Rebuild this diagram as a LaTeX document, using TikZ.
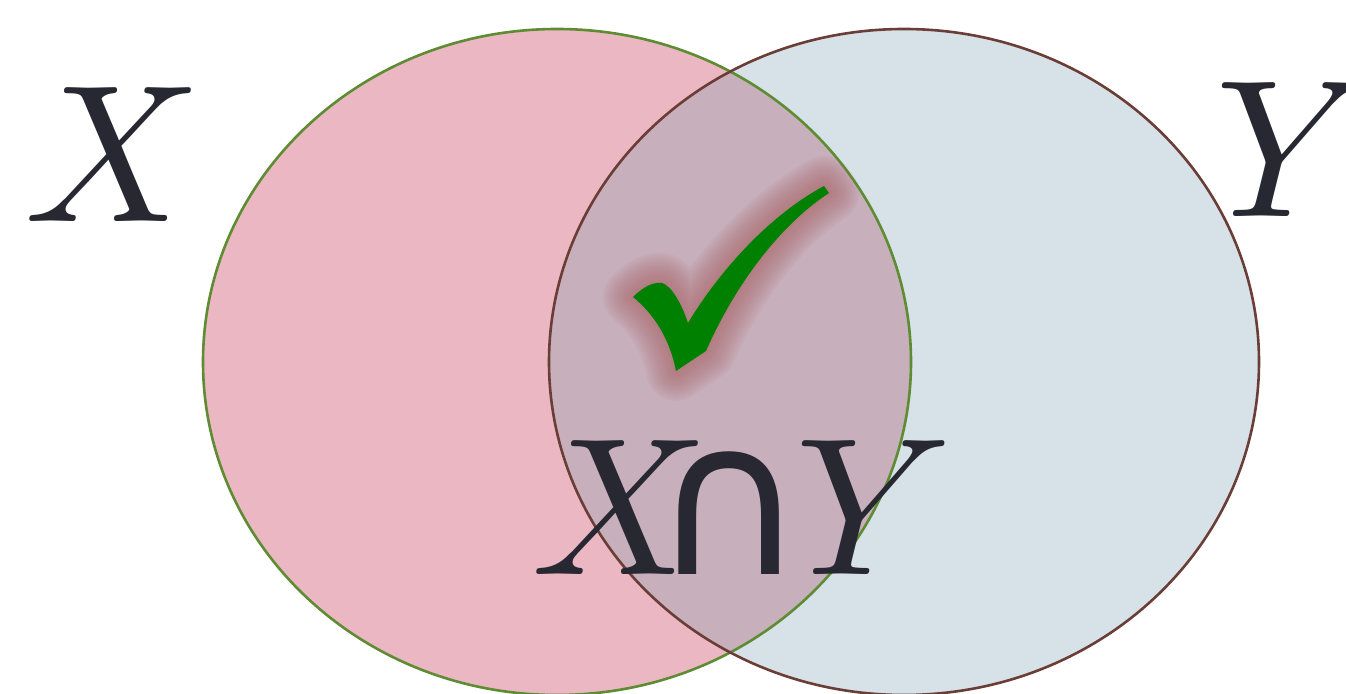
\documentclass[tikz,border=0pt]{standalone}
\usepackage[no-math]{fontspec}
\newfontfamily\dejavu{DejaVu Sans}
\usepackage{tikz}
\definecolor{pinkfill}{RGB}{235,183,195}
\definecolor{bluefill}{RGB}{214,225,232}
\definecolor{overfill}{RGB}{199,175,188}
\definecolor{greenline}{RGB}{94,140,50}
\definecolor{brownline}{RGB}{106,62,54}
\definecolor{inkcol}{RGB}{40,40,50}
\definecolor{glowcol}{RGB}{170,100,100}
\definecolor{checkgreen}{RGB}{0,128,0}
\begin{document}
\begin{tikzpicture}[x=0.5pt,y=-0.5pt,
  lbl/.style={inner sep=0pt,text=inkcol,scale=9.8},
  glow/.style={draw=glowcol,draw opacity=0.06,line join=round,line cap=round}]
\useasboundingbox (0,0) rectangle (1346,694);
% fills
\fill[pinkfill] (557,362) ellipse [x radius=354, y radius=333];
\fill[bluefill] (904,362) ellipse [x radius=355, y radius=333];
\begin{scope}
  \clip (557,362) ellipse [x radius=354, y radius=333];
  \fill[overfill] (904,362) ellipse [x radius=355, y radius=333];
\end{scope}
% outlines
\draw[greenline,line width=1.3pt] (557,362) ellipse [x radius=354, y radius=333];
\draw[brownline,line width=1.3pt] (904,362) ellipse [x radius=355, y radius=333];
% check mark glow
\def\checkpath{(633,297) .. controls (645,285) and (655,282) .. (662,283) .. controls (672,286) and (682,305) .. (688,323) .. controls (720,270) and (770,215) .. (824,186) -- (829,193) .. controls (780,225) and (735,285) .. (706,351) -- (676,371) .. controls (670,340) and (655,315) .. (633,297) -- cycle}
\foreach \w in {30,28,...,2}{
  \path[glow,line width=\w pt] \checkpath;
}
\fill[checkgreen] \checkpath;
% labels
\node[lbl] (xlab) at (113,155) {$X$};
\node[lbl] (ylab) at (1294,150) {$Y$};
\node[lbl,anchor=base] (xlab2) at (620,575) {$X$};
\node[inner sep=0pt,text=inkcol,anchor=base] (caplab) at (729,575) {\fontsize{106}{106}\selectfont\dejavu ∩};
\node[lbl,anchor=base] (ylab2) at (874,575) {$Y$};
\end{tikzpicture}
\end{document}
